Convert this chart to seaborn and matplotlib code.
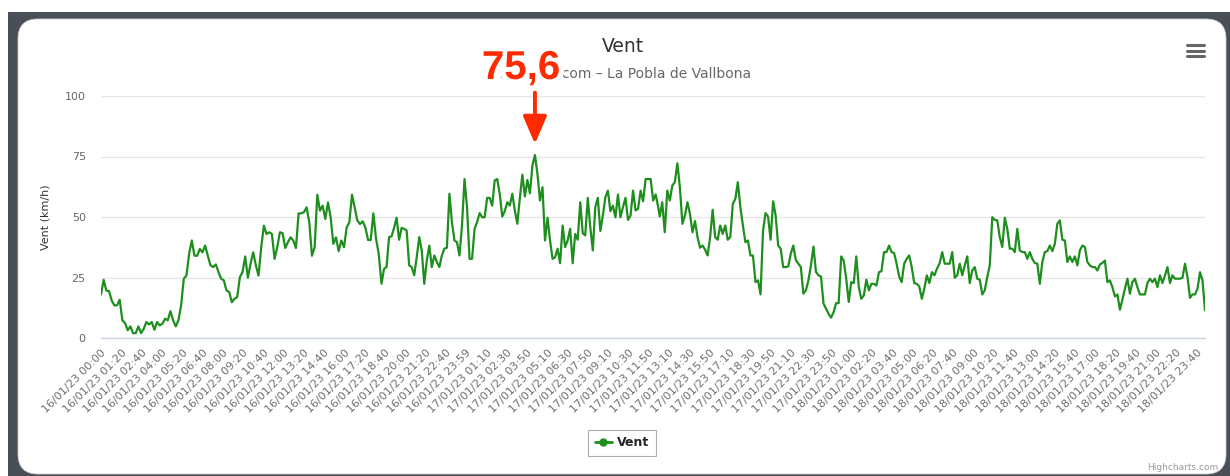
import numpy as np
import pandas as pd
import matplotlib
matplotlib.use("Agg")
import matplotlib.pyplot as plt
import seaborn as sns
from matplotlib.patches import FancyBboxPatch, Rectangle
from matplotlib.lines import Line2D
from matplotlib.transforms import IdentityTransform
import matplotlib.patheffects as pe

# ---------------- data (wind km/h) ----------------
seg1_values = [18, 24, 19.6, 19.4, 15.5, 13.5, 13.5, 15.8, 7.3, 6.2, 3.2, 4.8, 2, 2, 4.8, 2, 3.8, 6.6, 5.6, 6.6,
               3.4, 6.6, 5.2, 5.9, 8, 7.3, 11.1, 7.3, 4.8, 7.3, 13.5, 24.5, 25.8, 34.8, 40.3, 34, 34, 36.8, 35.4, 38.2,
               34, 30, 29.3, 30.4, 27.2, 24.5, 23.8, 19.6, 19, 14.8, 16.2, 16.9, 25.1, 27.2, 33.7, 24.9, 30.6, 35.4, 30, 25.8,
               37.5, 46.4, 43, 43.7, 43, 32.7, 37.5, 43.7, 43.3, 37.2, 39.6, 41.6, 40.3, 37.2, 51.5, 51.5, 52, 54, 47.8, 34,
               37.5, 59.2, 52.6, 54.7, 49.2, 56, 49.9, 38.9, 41.6, 35.9, 40.3, 37.5, 45.7, 47.8, 59.2, 54, 48.5, 47.1, 48.2, 45.7,
               40.5, 40.5, 51.5, 41, 34.8]
seg2_values = [22.4, 28.6, 29.3, 41.7, 42, 45.5, 49.7, 40.6, 45.5, 45.1, 44.4, 30, 29.3, 25.9, 33.4, 41.7, 36.2, 22.4, 32, 38.2,
               29.3, 34.1, 31.4, 29.3, 34.1, 36.9, 37.3, 59.6, 47.9, 40.3, 39.6, 34.1, 46.5, 65.7, 54.1, 32.7, 32.7, 45.1, 47.9, 51.6,
               49.9, 49.9, 57.9, 57.9, 54.7, 65.1, 65.7, 59.6, 50.2, 52.4, 56.1, 54.7, 59.6, 52.7, 47.2, 57.9, 67.5, 58.5, 65.3, 59.8,
               71.3, 75.6, 67.8, 56.8, 62.3, 40.3, 49.7, 40.3, 32.7, 33.4, 36.9, 30.9, 46.5, 37.6, 40.3, 45.1, 30.9, 43, 40.6, 56.1,
               43.3, 42.4, 57.9, 45.8, 36.2, 54.1, 57.9, 44.2, 50.6, 58.2, 60.9, 52.4, 54.7, 49.9, 59.3, 49.9, 54.1, 57.9, 48.8, 50.6,
               60.9, 52.7, 53.4, 60.9, 56.5, 65.7, 65.7, 65.7, 56.8, 59.3, 54.1]
seg3_values = [50.2, 56.1, 43.7, 60.9, 56.8, 63, 64.4, 72.2, 62.3, 47.2, 50.6, 56.1, 51.3, 43.7, 48.3, 41.7, 37.3, 38.2, 36.5, 34.1,
               41.7, 53, 41.7, 40.6, 46.5, 43, 46.5, 40.6, 41.7, 55.4, 57.5, 64.4, 54.1, 46.5, 39.6, 40.3, 34.1, 34.1, 23.1, 23.8,
               18, 44.4, 51.6, 50.2, 40.6, 56.5, 50.6, 38.2, 36.9, 29.3, 29.3, 29.6, 34.8, 38.2, 32.3, 30.7, 29.3, 18.3, 19.7, 23.8,
               30, 37.8, 27.3, 25.9, 25.4, 14.2, 12.1, 10, 8.4, 10.7, 14.4, 14.4, 33.7, 32, 24.5, 14.9, 23.1, 22.7, 33.7, 21,
               16.2, 17.6, 24.1, 19.7, 22.4, 22.4, 21.7, 27.2, 27.6, 35.5, 35.5, 38.2, 35.5, 35.1, 30.7, 25.4, 23.1, 30.7, 32.7, 34.1,
               29.3, 22.7, 22.4, 21.3, 16.2, 20.4, 25.9, 22.7, 27.2, 25.9, 28.6]
seg4_values = [31, 35.5, 30.7, 30.7, 30.7, 35.5, 24.9, 25.9, 30.7, 25.9, 30, 33.7, 22.7, 27.9, 29.3, 24.5, 24.1, 18, 19.7, 25.2,
               30, 49.9, 48.8, 48.6, 41.7, 37.6, 49.7, 45.1, 36.9, 36.9, 35.5, 45.1, 36.2, 35.5, 35.5, 32.7, 35.5, 32.7, 31, 30.7,
               22.4, 31.4, 35.5, 35.9, 38.2, 35.9, 38.9, 47.2, 48.6, 40.6, 40.3, 31.4, 33.7, 31.4, 33.7, 30, 36.2, 38.2, 37.6, 31.4,
               30, 29.3, 29.3, 27.9, 30.4, 31, 32, 23.1, 23.8, 21, 17.2, 18, 11.7, 15.8, 20.4, 24.5, 18.3, 23.1, 24.5, 21,
               18, 18, 18, 22.7, 24.5, 23.1, 24.5, 21, 25.9, 22.7, 25.9, 29.3, 22.7, 25.9, 24.5, 24.5, 24.5, 24.9, 30.7, 25.2,
               16.6, 18, 18, 20.4, 27.2, 23.8, 11.4]
# category-index span (10-min steps) covered by each segment
segment_spans = [(0, 109.5), (110.6, 219.7), (220.3, 329.6), (330.7, 435.3)]

tick_labels = [
    "16/01/23 00:00", "16/01/23 01:20", "16/01/23 02:40", "16/01/23 04:00", "16/01/23 05:20", "16/01/23 06:40",
    "16/01/23 08:00", "16/01/23 09:20", "16/01/23 10:40", "16/01/23 12:00", "16/01/23 13:20", "16/01/23 14:40",
    "16/01/23 16:00", "16/01/23 17:20", "16/01/23 18:40", "16/01/23 20:00", "16/01/23 21:20", "16/01/23 22:40",
    "16/01/23 23:59", "17/01/23 01:10", "17/01/23 02:30", "17/01/23 03:50", "17/01/23 05:10", "17/01/23 06:30",
    "17/01/23 07:50", "17/01/23 09:10", "17/01/23 10:30", "17/01/23 11:50", "17/01/23 13:10", "17/01/23 14:30",
    "17/01/23 15:50", "17/01/23 17:10", "17/01/23 18:30", "17/01/23 19:50", "17/01/23 21:10", "17/01/23 22:30",
    "17/01/23 23:50", "18/01/23 01:00", "18/01/23 02:20", "18/01/23 03:40", "18/01/23 05:00", "18/01/23 06:20",
    "18/01/23 07:40", "18/01/23 09:00", "18/01/23 10:20", "18/01/23 11:40", "18/01/23 13:00", "18/01/23 14:20",
    "18/01/23 15:40", "18/01/23 17:00", "18/01/23 18:20", "18/01/23 19:40", "18/01/23 21:00", "18/01/23 22:20",
    "18/01/23 23:40"]
tick_step = 8
y_ticks = [0, 25, 50, 75, 100]
peak_label = "75,6"
title = "Vent"
subtitle = "meteored.com – La Pobla de Vallbona"
series_name = "Vent"
y_title = "Vent (km/h)"

# ---------------- build table ----------------
parts = []
for vals, (a, b) in zip([seg1_values, seg2_values, seg3_values, seg4_values], segment_spans):
    parts.append(pd.DataFrame({"idx": np.linspace(a, b, len(vals)), "vent": vals}))
df = pd.concat(parts, ignore_index=True)

# ---------------- figure ----------------
sns.set_theme(style="white")
plt.rcParams["font.family"] = ["DejaVu Sans"]

W, H = 1230, 476
fig = plt.figure(figsize=(W / 100, H / 100), dpi=100)
fig.patch.set_facecolor("white")

frame_col = "#4a4e57"
fig.patches.append(Rectangle((8, 0), W - 8, H - 12, transform=IdentityTransform(),
                             facecolor=frame_col, edgecolor="none", zorder=-3))
fig.patches.append(FancyBboxPatch((18, 2), 1226 - 18, H - 19 - 2,
                                  boxstyle="round,pad=0,rounding_size=20",
                                  transform=IdentityTransform(),
                                  facecolor="white", edgecolor="#d0d0d0", lw=0.6, zorder=-2))

ax = fig.add_axes([101 / W, 138 / H, 1104 / W, 242 / H])
ax.set_zorder(1)
ax.set_facecolor("none")
green = "#1e8f1e"
sns.lineplot(data=df, x="idx", y="vent", ax=ax, color=green, linewidth=1.6, legend=False)

ax.set_xlim(0, 435.3)
ax.set_ylim(0, 100)
ax.set_yticks(y_ticks)
ax.set_yticklabels([str(v) for v in y_ticks])
ax.yaxis.grid(True, color="#e6e6e6", linewidth=1)
ax.xaxis.grid(False)
for s in ["top", "right", "left"]:
    ax.spines[s].set_visible(False)
ax.spines["bottom"].set_color("#ccd6eb")
ax.spines["bottom"].set_linewidth(1)

ticks_pos = np.arange(len(tick_labels)) * tick_step
ax.set_xticks(ticks_pos)
ax.set_xticklabels(tick_labels, rotation=45, ha="right", rotation_mode="anchor",
                   color="#6e6e6e", fontsize=8)
ax.tick_params(axis="x", length=0, pad=7)
ax.tick_params(axis="y", length=0, pad=11, labelcolor="#666666", labelsize=8)
ax.set_xlabel("")
ax.set_ylabel(y_title, fontsize=8, color="#333333")
ax.yaxis.set_label_coords(-(101 - 50) / 1104, 0.5)

# titles
fig.text(623 / W, 1 - 47 / H, title, ha="center", va="center", fontsize=13.5, color="#333333")
fig.text(751 / W, 1 - 74 / H, subtitle, ha="right", va="center", fontsize=10, color="#666666")

# peak annotation
red = "#ff2a00"
peak_i = int(df["vent"].idxmax())
px, pv = df.loc[peak_i, "idx"], df.loc[peak_i, "vent"]
ax.annotate("", xy=(px, pv), xycoords="data", xytext=(0, 45), textcoords="offset points",
            arrowprops=dict(arrowstyle="-|>,head_length=1.4,head_width=0.6", lw=2.8, color=red,
                            shrinkA=0, shrinkB=8),
            annotation_clip=False)
fig.text(521 / W, 1 - 68 / H, peak_label, ha="center", va="center", fontsize=29,
         fontweight="bold", family=["Liberation Sans", "DejaVu Sans"], color=red, zorder=5,
         path_effects=[pe.withSimplePatchShadow(offset=(1.5, -1.5), shadow_rgbFace="#888888", alpha=0.35),
                       pe.Stroke(linewidth=8, foreground="white"), pe.Normal()])

# legend
handle = Line2D([], [], color=green, marker="o", markersize=5, lw=2)
leg = fig.legend([handle], [series_name], loc="center", bbox_to_anchor=(622 / W, 1 - 443 / H),
                 frameon=True, fancybox=False, edgecolor="#999999", handlelength=1.4,
                 prop={"weight": "bold", "size": 9}, borderpad=0.5, handletextpad=0.4)
leg.get_frame().set_linewidth(0.8)

# menu icon
for yy in (45, 50.5, 56):
    fig.add_artist(Line2D([1187 / W, 1204 / W], [1 - yy / H, 1 - yy / H], transform=fig.transFigure,
                          color="#666666", lw=2.2, solid_capstyle="round"))

fig.text(1218 / W, 1 - 468 / H, "Highcharts.com", ha="right", va="center", fontsize=6.5, color="#999999")

fig.savefig("out.png", dpi=100, facecolor=fig.get_facecolor())
